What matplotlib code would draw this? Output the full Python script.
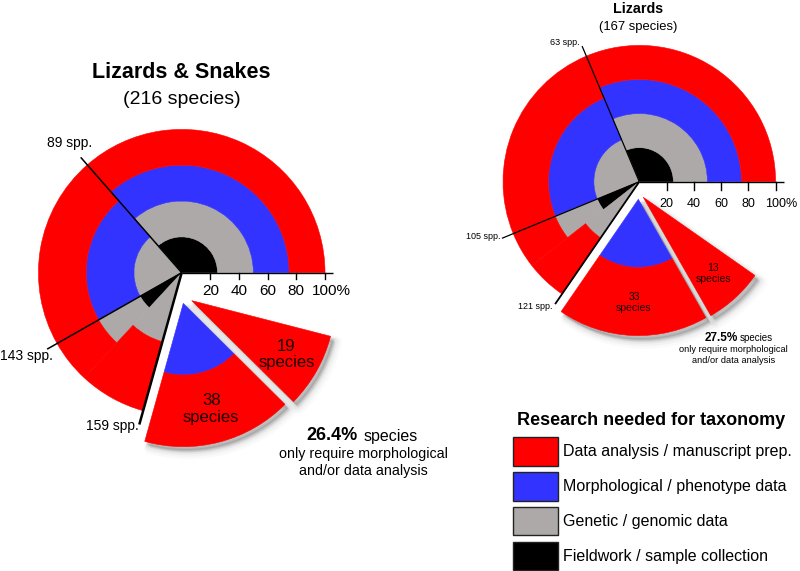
import matplotlib
matplotlib.use('Agg')
import numpy as np
import matplotlib.pyplot as plt
from matplotlib.patches import Wedge, Rectangle

plt.rcParams['font.family'] = ['Liberation Sans', 'DejaVu Sans']

# ---------------- data ----------------
step_codes = ['F', 'G', 'M', 'D']
step_names = ['Fieldwork / sample collection', 'Genetic / genomic data',
              'Morphological / phenotype data', 'Data analysis / manuscript prep.']
step_colors = ['#000000', '#ADA9A9', '#3333FF', '#FF0000']
legend_title = 'Research needed for taxonomy'

# Lizards & Snakes (left)
ls_title = 'Lizards & Snakes'
ls_subtitle = '(216 species)'
ls_total = 216
ls_main_counts = [82, 49, 11, 17]
ls_main_steps = ['FGMD', 'GMD', 'FGD', 'GD']
ls_expl_counts = [38, 19]
ls_expl_steps = ['MD', 'D']
ls_marker_labels = ['89 spp.', '143 spp.', '159 spp.']
ls_marker_groups = [1, 2, 4]
ls_share_pct = '26.4%'

# Lizards (right)
lz_title = 'Lizards'
lz_subtitle = '(167 species)'
lz_total = 167
lz_main_counts = [58, 46, 8, 9]
lz_main_steps = ['FGMD', 'GMD', 'FGD', 'GD']
lz_expl_counts = [33, 13]
lz_expl_steps = ['MD', 'D']
lz_marker_labels = ['63 spp.', '105 spp.', '121 spp.']
lz_marker_groups = [1, 2, 4]
lz_share_pct = '27.5%'

tick_values = [20, 40, 60, 80, 100]
tick_labels = ['20', '40', '60', '80', '100%']
share_lines = ['species', 'only require morphological', 'and/or data analysis']

# ---------------- layout ----------------
W, H = 800, 571
fig = plt.figure(figsize=(W / 100, H / 100), dpi=100)
fig.patch.set_facecolor('white')


def chart_axes(cx, cy, R, xl, yl):
    left = (cx + xl[0] * R) / W
    right = (cx + xl[1] * R) / W
    top = cy - yl[1] * R
    bottom = cy - yl[0] * R
    ax = fig.add_axes([left, 1 - bottom / H, right - left, (bottom - top) / H])
    ax.set_xlim(*xl)
    ax.set_ylim(*yl)
    ax.axis('off')
    return ax


def draw_stack(ax, c, t1, t2, s, z=2):
    present = [i for i, code in enumerate(step_codes) if code in s]
    n = len(present)
    for k, i in enumerate(present):
        r = (k + 1) / n
        w = None if k == 0 else 1 / n
        ax.add_patch(Wedge(c, r, t1, t2, width=w, facecolor=step_colors[i],
                           edgecolor=step_colors[i], lw=0.4, zorder=z))


def draw_shadow(ax, c, t1, t2, d):
    # soft drop shadow: several translucent layers with growing offset/halo
    for f, lw, a in [(1.25, 9, 0.035), (1.1, 6.5, 0.05), (0.95, 4.5, 0.07),
                     (0.8, 2.5, 0.09), (0.65, 1.0, 0.1)]:
        cc = (c[0] + d[0] * f, c[1] + d[1] * f)
        ax.add_patch(Wedge(cc, 1, t1, t2, facecolor=(0.45, 0.45, 0.45, a * 1.6),
                           edgecolor=(0.45, 0.45, 0.45, a), lw=lw,
                           joinstyle='round', zorder=1.5))


def draw_chart(ax, total, span, counts, steps, ecounts, esteps, eoffsets,
               mlabels, mgroups, mradii, moffsets, mfs, mlw,
               tick_fs, tick_y, tick_len, wedge_fs, shadow_d):
    dps = span / total
    theta = 0.0
    bounds = [0.0]
    for n, s in zip(counts, steps):
        draw_stack(ax, (0, 0), theta, theta + n * dps, s)
        theta += n * dps
        bounds.append(theta)
    shapes = []
    for n, s, off in zip(ecounts, esteps, eoffsets):
        shapes.append((off, theta, theta + n * dps, s, n))
        theta += n * dps
    for off, t1, t2, s, n in shapes:
        draw_shadow(ax, off, t1, t2, shadow_d)
    for off, t1, t2, s, n in shapes:
        draw_stack(ax, off, t1, t2, s, z=3)
        mid = np.deg2rad((t1 + t2) / 2)
        ax.text(off[0] + 0.76 * np.cos(mid), off[1] + 0.76 * np.sin(mid),
                f'{n}\nspecies', ha='center', va='center', fontsize=wedge_fs,
                linespacing=1.15, color='#1a0000', zorder=6)
    # marker lines
    for lab, g, rr, mo, lw in zip(mlabels, mgroups, mradii, moffsets, mlw):
        a = np.deg2rad(bounds[g])
        x1, y1 = rr * np.cos(a), rr * np.sin(a)
        ax.plot([0, x1], [0, y1], color='black', lw=lw, zorder=5,
                solid_capstyle='butt')
        ax.annotate(lab, (x1, y1), xytext=mo, textcoords='offset points',
                    ha='center', va='center', fontsize=mfs, zorder=6,
                    annotation_clip=False)
    # radial axis
    ax.plot([0, 1.058], [0, 0], color='black', lw=1.0, zorder=5,
            solid_capstyle='butt')
    for tv, tl in zip(tick_values, tick_labels):
        x = tv / 100
        ax.plot([x, x], [0, -tick_len], color='black', lw=1.0, zorder=5)
        if tl.endswith('%'):
            ax.annotate(tl, (x, tick_y), xytext=(-0.556 * tick_fs * (len(tl) - 1) / 2, 0),
                        textcoords='offset points', ha='left', va='baseline',
                        fontsize=tick_fs, annotation_clip=False)
        else:
            ax.text(x, tick_y, tl, ha='center', va='baseline', fontsize=tick_fs)


# Left chart
cxL, cyL, RL = 181.7, 272.7, 143.3
axL = chart_axes(cxL, cyL, RL, (-1.26, 2.0), (-1.45, 1.9))
draw_chart(axL, ls_total, 345.6, ls_main_counts, ls_main_steps,
           ls_expl_counts, ls_expl_steps, [(0.011, -0.214), (0.070, -0.195)],
           ls_marker_labels, ls_marker_groups, [1.07, 1.08, 1.10],
           [(-8, 10), (-15, -4.8), (-19.7, -1.2)], 10, [1.1, 1.1, 1.8],
           11, -0.156, 0.047, 12, (0.03, -0.035))

# Right chart
cxR, cyR, RR = 639.3, 181.7, 136.3
axR = chart_axes(cxR, cyR, RR, (-1.3, 1.17), (-1.45, 1.33))
draw_chart(axR, lz_total, 325.0, lz_main_counts, lz_main_steps,
           lz_expl_counts, lz_expl_steps, [(-0.007, -0.129), (0.029, -0.114)],
           lz_marker_labels, lz_marker_groups, [1.08, 1.09, 1.09],
           [(-12.6, 2.4), (-13.5, 1.2), (-14, -1.7)], 6.5, [0.9, 0.9, 1.3],
           9, -0.188, 0.06, 7.5, (0.035, -0.04))

# overlay for titles, notes and legend (pixel coordinates)
ov = fig.add_axes([0, 0, 1, 1])
ov.set_xlim(0, W)
ov.set_ylim(H, 0)
ov.axis('off')
ov.patch.set_alpha(0)

ov.text(181.5, 78.3, ls_title, ha='center', va='baseline', fontsize=15.5, fontweight='bold')
ov.text(181.5, 104.3, ls_subtitle, ha='center', va='baseline', fontsize=14)
ov.text(638, 13.3, lz_title, ha='center', va='baseline', fontsize=10.3, fontweight='bold')
ov.text(638, 30, lz_subtitle, ha='center', va='baseline', fontsize=9.4)

# share notes
ov.text(358, 440.5, ls_share_pct, ha='right', va='baseline', fontsize=13, fontweight='bold')
ov.text(364, 440.5, share_lines[0], ha='left', va='baseline', fontsize=11.5)
ov.text(363, 458, share_lines[1], ha='center', va='baseline', fontsize=10.3)
ov.text(363, 475.5, share_lines[2], ha='center', va='baseline', fontsize=10.3)

ov.text(737.5, 340.7, lz_share_pct, ha='right', va='baseline', fontsize=8.5, fontweight='bold')
ov.text(740, 340.7, share_lines[0], ha='left', va='baseline', fontsize=7)
ov.text(733.3, 352, share_lines[1], ha='center', va='baseline', fontsize=6.7)
ov.text(733.3, 363, share_lines[2], ha='center', va='baseline', fontsize=6.7)

# legend
ov.text(651, 425, legend_title, ha='center', va='baseline', fontsize=13, fontweight='bold')
for k, i in enumerate(reversed(range(len(step_names)))):
    y0 = 437.3 + k * 34.8
    ov.add_patch(Rectangle((513.3, y0), 45, 28.5, facecolor=step_colors[i],
                           edgecolor='#222222', lw=1.0))
    ov.text(563.3, y0 + 14.3, step_names[i], ha='left', va='center', fontsize=11.5)

fig.savefig('out.png', dpi=100, facecolor='white')
